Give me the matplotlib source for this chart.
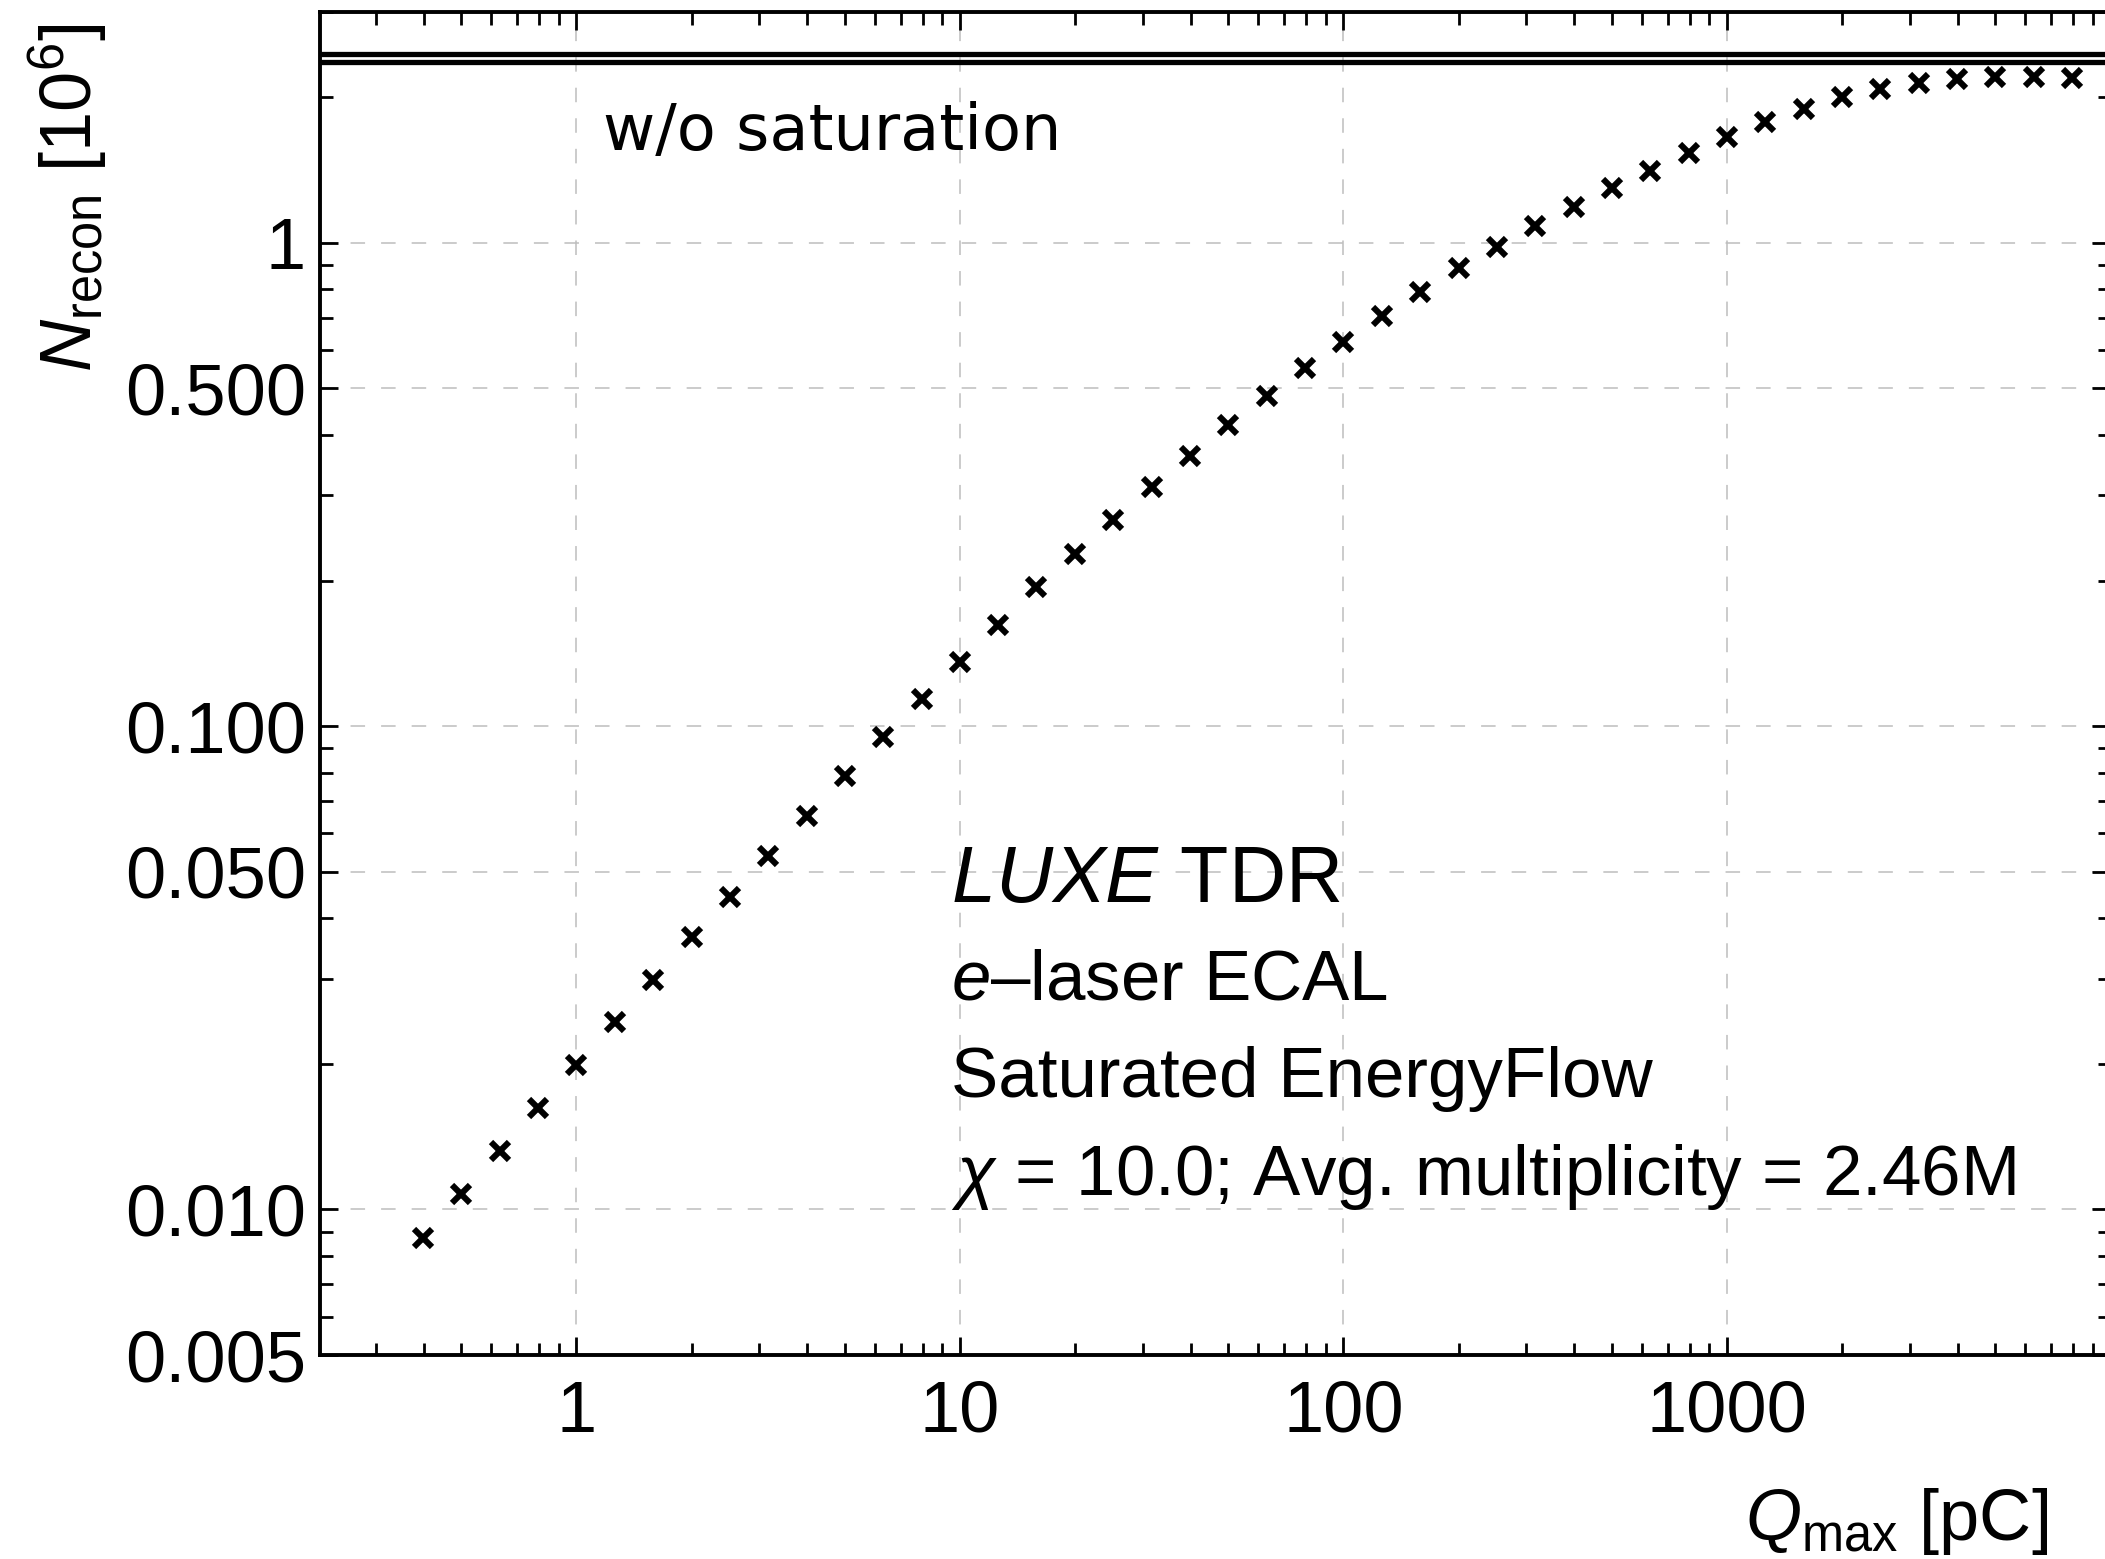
import matplotlib
matplotlib.use("Agg")
import matplotlib.pyplot as plt
from matplotlib.ticker import FixedLocator, FixedFormatter, LogLocator, NullFormatter

# data (N in units of 10^6)
q_max = [0.398, 0.501, 0.631, 0.794, 1.0, 1.26, 1.58, 2.0, 2.51, 3.16,
         3.98, 5.01, 6.31, 7.94, 10.0, 12.6, 15.8, 20.0, 25.1, 31.6,
         39.8, 50.1, 63.1, 79.4, 100, 126, 158, 200, 251, 316,
         398, 501, 631, 794, 1000, 1259, 1585, 1995, 2512, 3162,
         3981, 5012, 6310, 7943]
n_recon = [0.00873, 0.01074, 0.01319, 0.01623, 0.01988, 0.02439, 0.0299, 0.0367, 0.0443, 0.0538,
           0.0653, 0.0788, 0.0951, 0.1139, 0.1359, 0.1622, 0.1936, 0.2272, 0.2667, 0.312,
           0.362, 0.4195, 0.4815, 0.5495, 0.6224, 0.7048, 0.790, 0.885, 0.981, 1.082,
           1.187, 1.295, 1.406, 1.531, 1.654, 1.776, 1.894, 2.00, 2.083, 2.136,
           2.177, 2.20, 2.205, 2.19]
n_true_lines = [2.46, 2.36]

y_ticks = [0.005, 0.01, 0.05, 0.1, 0.5, 1]
y_tick_labels = ["0.005", "0.010", "0.050", "0.100", "0.500", "1"]
x_ticks = [1, 10, 100, 1000]
x_tick_labels = ["1", "10", "100", "1000"]

info_lines = [r"$\mathit{LUXE}$ TDR",
              r"$e$–laser ECAL",
              "Saturated EnergyFlow",
              r"$\chi$ = 10.0; Avg. multiplicity = 2.46M"]
info_sizes = [57, 51, 51, 51]

plt.rcParams.update({
    'font.family': ['Liberation Sans', 'DejaVu Sans'],
    'mathtext.fontset': 'custom',
    'mathtext.rm': 'Liberation Sans',
    'mathtext.it': 'Liberation Sans:italic',
    'mathtext.bf': 'Liberation Sans:bold',
})

W, H = 2105, 1559
fig = plt.figure(figsize=(W / 100, H / 100), dpi=100)
ax = fig.add_axes([320 / W, 1 - 1355 / H, (2110 - 320) / W, (1355 - 12) / H])

ax.set_xscale('log')
ax.set_yscale('log')
ax.set_xlim(0.2144, 9970)
ax.set_ylim(0.005, 3.0)

ax.plot(q_max, n_recon, linestyle='none', marker='x', color='black',
        markersize=13, markeredgewidth=4.4, zorder=5)
for yv in n_true_lines:
    ax.axhline(yv, color='black', lw=3.8, zorder=4)

# ticks
ax.xaxis.set_major_locator(FixedLocator(x_ticks))
ax.xaxis.set_major_formatter(FixedFormatter(x_tick_labels))
ax.xaxis.set_minor_locator(LogLocator(base=10, subs=range(2, 10), numticks=20))
ax.xaxis.set_minor_formatter(NullFormatter())
ax.yaxis.set_major_locator(FixedLocator(y_ticks))
ax.yaxis.set_major_formatter(FixedFormatter(y_tick_labels))
ax.yaxis.set_minor_locator(FixedLocator([0.006, 0.007, 0.008, 0.009, 0.02, 0.03, 0.04,
                                         0.06, 0.07, 0.08, 0.09, 0.2, 0.3, 0.4,
                                         0.6, 0.7, 0.8, 0.9, 2, 3]))
ax.yaxis.set_minor_formatter(NullFormatter())

ax.tick_params(which='both', direction='in', top=True, right=True, width=2)
ax.tick_params(which='major', length=13)
ax.tick_params(which='minor', length=9)
ax.tick_params(axis='x', which='major', labelsize=52, pad=18)
ax.tick_params(axis='y', which='major', labelsize=52, pad=10)
for sp in ax.spines.values():
    sp.set_linewidth(2.8)

ax.grid(True, which='major', color='#bdbdbd', lw=1.1, linestyle=(0, (9.5, 10.5)))
ax.set_axisbelow(True)

# axis titles, ROOT style
fig.text(2048 / W, 1 - 1540 / H, r"$Q_{\mathrm{max}}$ [pC]", fontsize=52,
         ha='right', va='baseline')
fig.text(68 / W, 1 - 23 / H, r"$N_{\mathrm{recon}}$ [10$^{6}$]", fontsize=52,
         rotation=90, ha='center', va='top')

fig.text(603 / W, 1 - 150 / H, "w/o saturation", fontsize=46,
         family='DejaVu Sans', ha='left', va='baseline')

for i, (line, fs) in enumerate(zip(info_lines, info_sizes)):
    fig.text(951 / W, 1 - (902 + 97.5 * i) / H, line, fontsize=fs,
             ha='left', va='baseline')

fig.savefig("out.png", dpi=100)
